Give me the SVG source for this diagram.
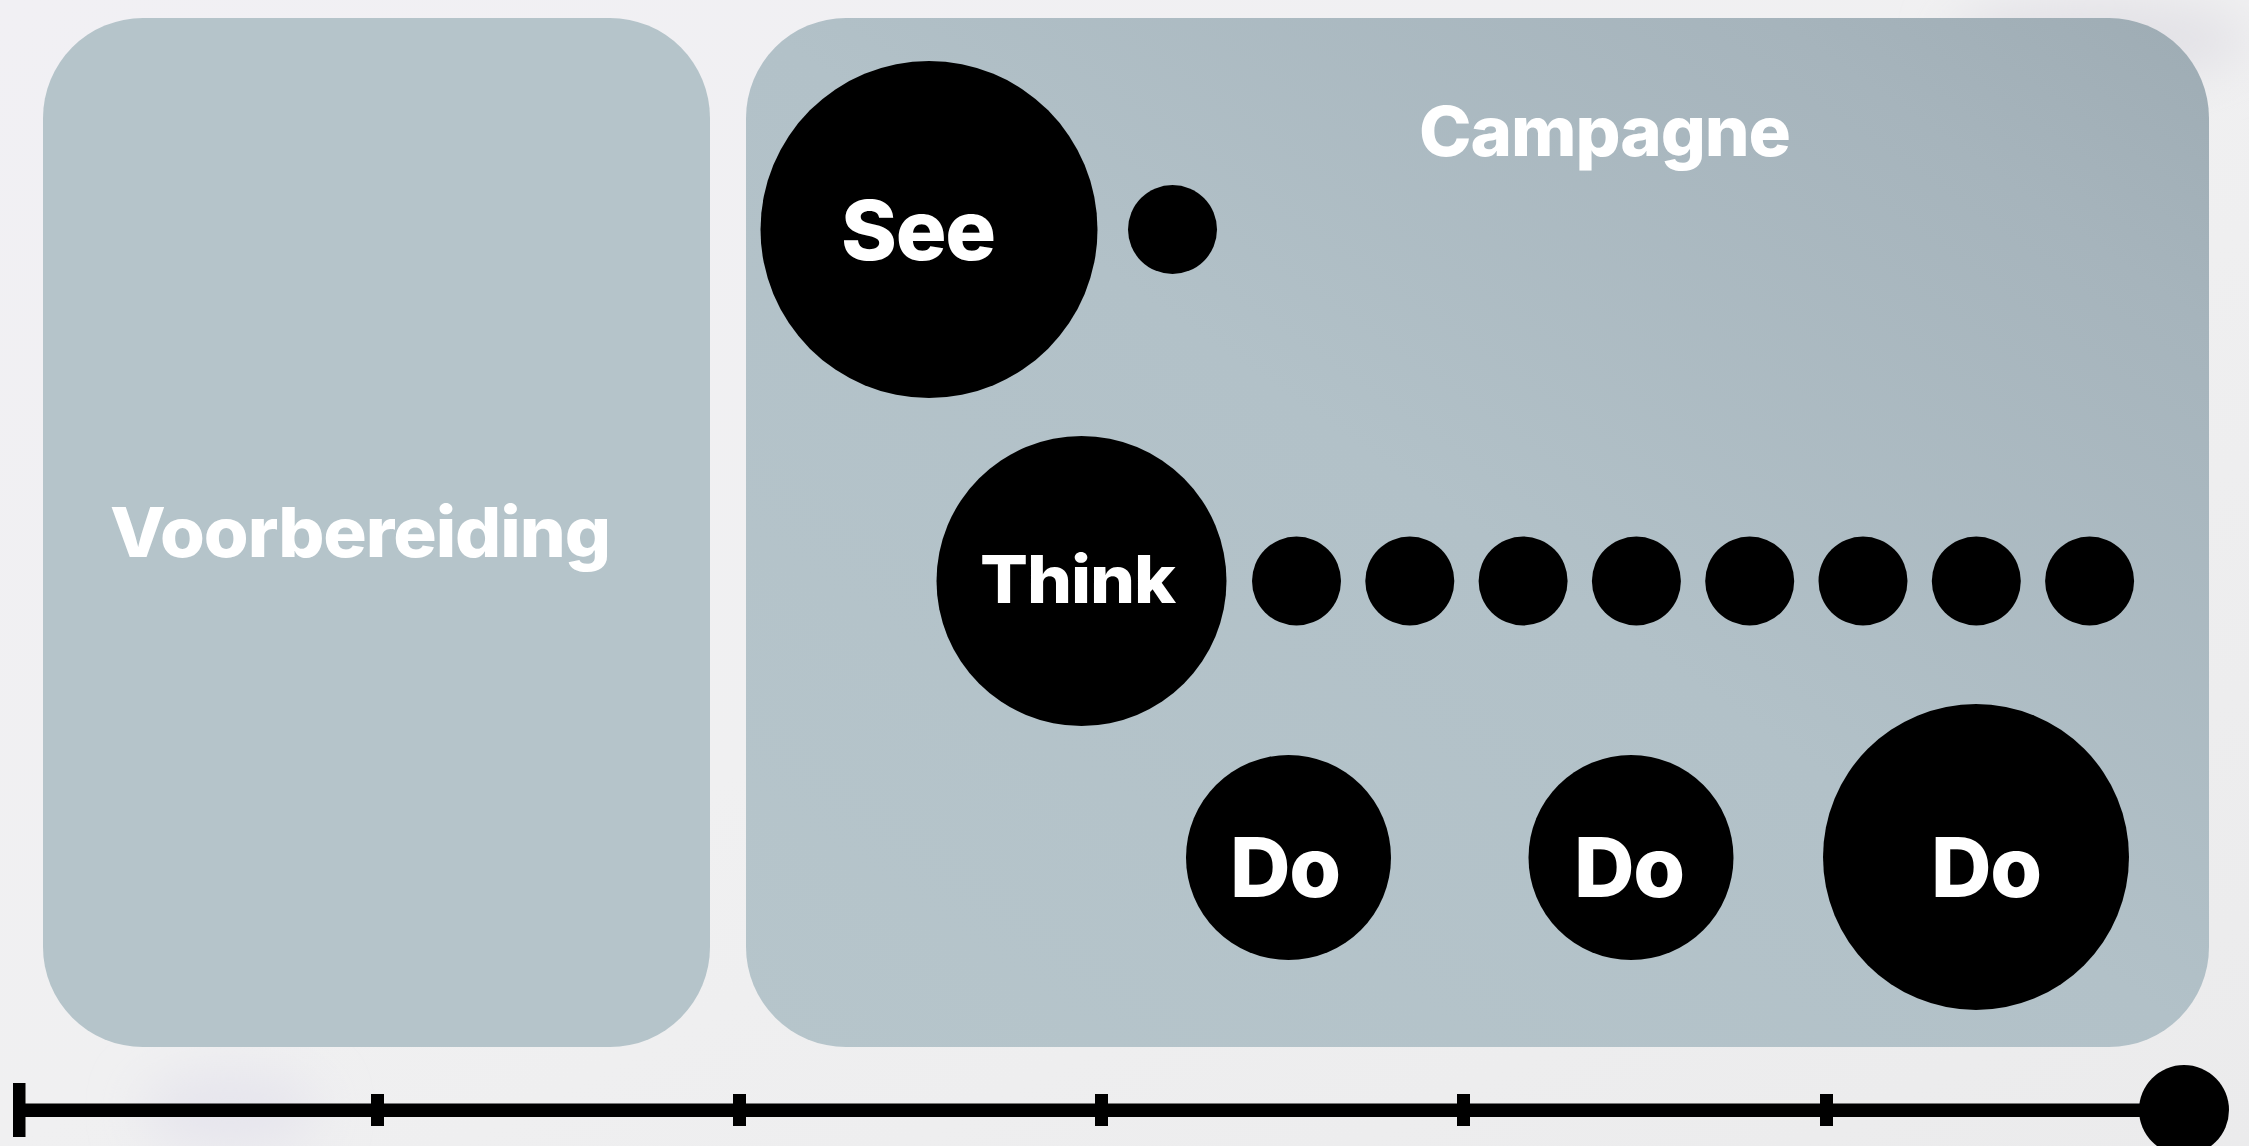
<svg xmlns="http://www.w3.org/2000/svg" width="2249" height="1146" viewBox="0 0 2249 1146">
  <defs>
    <linearGradient id="bg" x1="0" y1="0" x2="1" y2="1">
      <stop offset="0" stop-color="#f1f0f4"/>
      <stop offset="0.5" stop-color="#f0f0f1"/>
      <stop offset="1" stop-color="#ebebec"/>
    </linearGradient>
    <linearGradient id="rightPanel" x1="0" y1="1" x2="1" y2="0">
      <stop offset="0" stop-color="#b6c5cb"/>
      <stop offset="0.5" stop-color="#b2c1c8"/>
      <stop offset="0.85" stop-color="#a6b4bc"/>
      <stop offset="1" stop-color="#9eacb4"/>
    </linearGradient>
    <filter id="blur" x="-50%" y="-50%" width="200%" height="200%">
      <feGaussianBlur stdDeviation="25"/>
    </filter>
    <style>
      .panel-left { fill: #b5c4ca; }
      .panel-right { fill: url(#rightPanel); }
      .dot { fill: #000000; }
      .lbl { fill: #ffffff; font-family: Inter, Lato, "Noto Sans", "Liberation Sans", sans-serif; font-weight: 800; letter-spacing: -0.015em; }
      .title { font-size: 69px; }
      .big { font-size: 83px; }
      .think { font-size: 66px; }
      .tl { fill: #000000; }
    </style>
  </defs>

  <rect width="2249" height="1146" fill="url(#bg)"/>
  <ellipse cx="230" cy="1110" rx="90" ry="40" fill="#e6e5ed" filter="url(#blur)"/>
  <ellipse cx="2100" cy="40" rx="150" ry="40" fill="#e2e1e6" filter="url(#blur)"/>

  <g id="voorbereiding">
    <rect class="panel-left" x="43" y="18" width="667" height="1029" rx="100" ry="100"/>
    <text class="lbl title" x="110" y="557" textLength="500" lengthAdjust="spacingAndGlyphs">Voorbereiding</text>
  </g>

  <g id="campagne">
    <rect class="panel-right" x="746" y="18" width="1463" height="1029" rx="100" ry="100"/>
    <text class="lbl title" x="1419" y="156" textLength="371" lengthAdjust="spacingAndGlyphs">Campagne</text>
  </g>

  <g id="see">
    <circle class="dot" cx="929" cy="229.5" r="168.5"/>
    <text class="lbl big" x="841" y="260" textLength="154" lengthAdjust="spacingAndGlyphs">See</text>
  </g>
  <g id="see-dot-1"><circle class="dot" cx="1172.5" cy="229.5" r="44.5"/></g>

  <g id="think">
    <circle class="dot" cx="1081.5" cy="581" r="145"/>
    <text class="lbl think" x="980" y="603" textLength="195" lengthAdjust="spacingAndGlyphs">Think</text>
  </g>
  <g id="think-dot-1"><circle class="dot" cx="1296.5" cy="581" r="44.5"/></g>
  <g id="think-dot-2"><circle class="dot" cx="1409.8" cy="581" r="44.5"/></g>
  <g id="think-dot-3"><circle class="dot" cx="1523.1" cy="581" r="44.5"/></g>
  <g id="think-dot-4"><circle class="dot" cx="1636.4" cy="581" r="44.5"/></g>
  <g id="think-dot-5"><circle class="dot" cx="1749.7" cy="581" r="44.5"/></g>
  <g id="think-dot-6"><circle class="dot" cx="1863" cy="581" r="44.5"/></g>
  <g id="think-dot-7"><circle class="dot" cx="1976.3" cy="581" r="44.5"/></g>
  <g id="think-dot-8"><circle class="dot" cx="2089.6" cy="581" r="44.5"/></g>

  <g id="do-1">
    <circle class="dot" cx="1288.5" cy="857.5" r="102.5"/>
    <text class="lbl big" x="1230" y="897" textLength="110" lengthAdjust="spacingAndGlyphs">Do</text>
  </g>
  <g id="do-2">
    <circle class="dot" cx="1631" cy="857.5" r="102.5"/>
    <text class="lbl big" x="1574" y="897" textLength="110" lengthAdjust="spacingAndGlyphs">Do</text>
  </g>
  <g id="do-3">
    <circle class="dot" cx="1976" cy="857" r="153"/>
    <text class="lbl big" x="1931" y="897" textLength="110" lengthAdjust="spacingAndGlyphs">Do</text>
  </g>

  <g id="timeline">
    <rect class="tl" x="13" y="1103.5" width="2140" height="13.5"/>
    <rect class="tl" x="13" y="1083" width="12.5" height="54"/>
    <rect class="tl" x="371" y="1094" width="13" height="32"/>
    <rect class="tl" x="733" y="1094" width="13" height="32"/>
    <rect class="tl" x="1095" y="1094" width="13" height="32"/>
    <rect class="tl" x="1457" y="1094" width="13" height="32"/>
    <rect class="tl" x="1820" y="1094" width="13" height="32"/>
    <circle class="tl" cx="2184" cy="1110" r="45"/>
  </g>
</svg>
